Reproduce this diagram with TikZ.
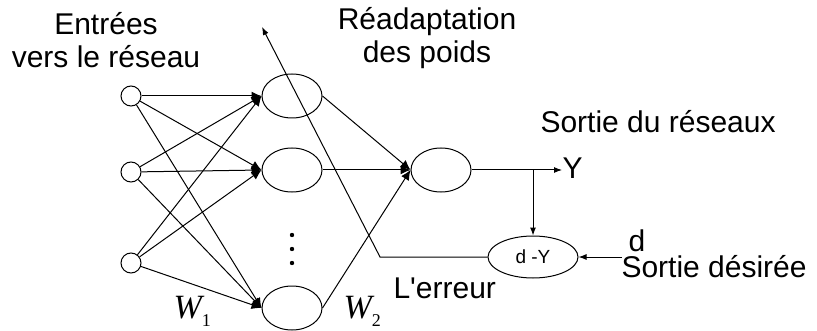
\documentclass[tikz,border=0pt]{standalone}
\usepackage{fontspec}
\setmainfont{Liberation Sans}
\newfontfamily\poidsfont{Liberation Serif}
\usetikzlibrary{arrows.meta,shapes.geometric}

\tikzset{
  entree/.style={draw,circle,minimum size=10pt,inner sep=0pt},
  neurone/.style={draw,ellipse,minimum width=30pt,minimum height=22pt,inner sep=0pt},
  syn/.style={-{Latex[length=5pt,width=4.5pt]}},
  fleche/.style={-{Latex[length=4pt,width=3pt]}},
  texte/.style={font=\fontsize{15}{16.5}\selectfont,inner sep=0pt,align=center},
}
\newcommand{\poids}[1]{{\poidsfont\itshape\fontsize{17}{17}\selectfont W\raisebox{-4pt}{\upshape\fontsize{9}{9}\selectfont #1}}}

\begin{document}
\begin{tikzpicture}[x=0.5pt,y=-0.5pt,line width=0.5pt]
\useasboundingbox (0,0) rectangle (817,331);

% couche d'entree, couche cachee, sortie
\node[entree](x1) at (131,96) {};
\node[entree](x2) at (131,172) {};
\node[entree](x3) at (131,263) {};
\node[neurone](h1) at (292,96) {};
\node[neurone](h2) at (292,170) {};
\node[neurone](h3) at (292,308) {};
\node[neurone](o) at (441,170) {};
\foreach \y in {235,249,263} \fill (292,\y) circle (1.1pt);

\foreach \i in {1,2,3}
  \foreach \j in {1,2,3}
    \draw[syn] (x\i) -- (h\j.west);
\foreach \j in {1,2,3}
  \draw[syn] (h\j.east) -- (o.west);

% sortie et erreur
\node[texte,anchor=west](Y) at (562,168) {Y};
\node[neurone,minimum width=45pt,minimum height=21pt,font=\fontsize{9.5}{9.5}\selectfont](err) at (533,257) {d -Y};
\node[texte,anchor=base](d) at (637,251) {d};
\coordinate (b) at (533,170);
\coordinate (dd) at (622,257);
\coordinate (coin) at (380,257);
\coordinate (retour) at (262,27);
\draw[fleche] (o.east) -- (o.east -| Y.west);
\draw[fleche] (b) -- (err.north);
\draw[fleche] (dd) -- (err.east);
\draw[fleche] (err.west) -- (coin) -- (retour);

% textes
\node[texte,anchor=base](ent) at (106,68) {Entrées\\vers le réseau};
\node[texte,anchor=base](rea) at (427,63) {Réadaptation\\des poids};
\node[texte,anchor=base west](sr) at (540,133) {Sortie du réseaux};
\node[texte,anchor=base west](sd) at (621,277) {Sortie désirée};
\node[texte,anchor=base west](le) at (393,298) {L\textquotesingle erreur};
\node[anchor=base west,inner sep=0pt](w1) at (173,318) {\poids{1}};
\node[anchor=base west,inner sep=0pt](w2) at (343,318) {\poids{2}};
\end{tikzpicture}
\end{document}
